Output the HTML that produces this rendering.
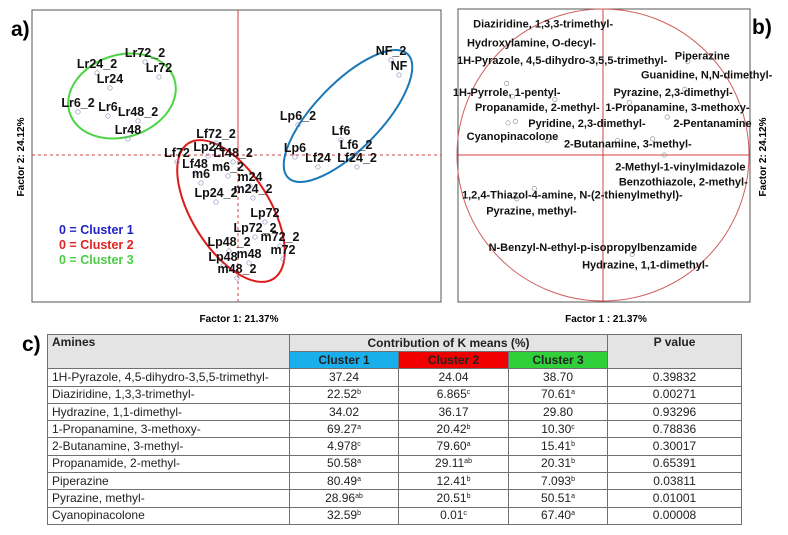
<!DOCTYPE html>
<html><head><meta charset="utf-8">
<style>
body{margin:0;width:788px;height:535px;background:#fff;position:relative;overflow:hidden;font-family:"Liberation Sans",Arial,sans-serif}
svg{position:absolute;left:0;top:0}
table{position:absolute;left:47px;top:334px;border-collapse:collapse;font-size:12px;color:#222}
td{border:1px solid #707070;height:16.3px;padding:0 4px;line-height:15px;white-space:nowrap}
td.n{text-align:center}
sup{font-size:7px;vertical-align:4px;line-height:0}
.hd{background:#e4e4e4;font-weight:bold}
</style></head><body>
<svg width="788" height="360">
<g font-family="Liberation Sans, Arial, sans-serif">
<text x="11" y="36" font-size="21" font-weight="bold">a)</text>
<text x="752" y="34" font-size="21" font-weight="bold">b)</text>
<rect x="32" y="10" width="409" height="292" fill="none" stroke="#555" stroke-width="1"/>
<rect x="458" y="9" width="292" height="293" fill="none" stroke="#555" stroke-width="1"/>
<g id="pa"></g><g id="pb"></g>
<text x="239" y="322" font-size="10" font-weight="bold" text-anchor="middle">Factor 1: 21.37%</text>
<text x="606" y="322" font-size="10" font-weight="bold" text-anchor="middle">Factor 1 : 21.37%</text>
<text transform="translate(24,157) rotate(-90)" font-size="10" font-weight="bold" text-anchor="middle">Factor 2: 24.12%</text>
<text transform="translate(766,157) rotate(-90)" font-size="10" font-weight="bold" text-anchor="middle">Factor 2: 24.12%</text>
<text x="59" y="234" font-size="12.5" font-weight="bold" fill="#2323c8">0 = Cluster 1</text>
<text x="59" y="249" font-size="12.5" font-weight="bold" fill="#e02222">0 = Cluster 2</text>
<text x="59" y="264" font-size="12.5" font-weight="bold" fill="#4ccc44">0 = Cluster 3</text>
<text x="22" y="351" font-size="21" font-weight="bold">c)</text>
</g>
</svg>
<table>
<tr class="hd"><td rowspan="2" style="width:233px;vertical-align:top;height:32px">Amines</td><td colspan="3" class="n" style="height:16px">Contribution of K means (%)</td><td rowspan="2" class="n" style="width:125px;vertical-align:top">P value</td></tr>
<tr class="hd"><td class="n" style="width:100px;background:#1aaeea;height:15px">Cluster 1</td><td class="n" style="width:101px;background:#f00000">Cluster 2</td><td class="n" style="width:90px;background:#2fd03a">Cluster 3</td></tr>
<tr><td>1H-Pyrazole, 4,5-dihydro-3,5,5-trimethyl-</td><td class="n">37.24</td><td class="n">24.04</td><td class="n">38.70</td><td class="n">0.39832</td></tr>
<tr><td>Diaziridine, 1,3,3-trimethyl-</td><td class="n">22.52<sup>b</sup></td><td class="n">6.865<sup>c</sup></td><td class="n">70.61<sup>a</sup></td><td class="n">0.00271</td></tr>
<tr><td>Hydrazine, 1,1-dimethyl-</td><td class="n">34.02</td><td class="n">36.17</td><td class="n">29.80</td><td class="n">0.93296</td></tr>
<tr><td>1-Propanamine, 3-methoxy-</td><td class="n">69.27<sup>a</sup></td><td class="n">20.42<sup>b</sup></td><td class="n">10.30<sup>c</sup></td><td class="n">0.78836</td></tr>
<tr><td>2-Butanamine, 3-methyl-</td><td class="n">4.978<sup>c</sup></td><td class="n">79.60<sup>a</sup></td><td class="n">15.41<sup>b</sup></td><td class="n">0.30017</td></tr>
<tr><td>Propanamide, 2-methyl-</td><td class="n">50.58<sup>a</sup></td><td class="n">29.11<sup>ab</sup></td><td class="n">20.31<sup>b</sup></td><td class="n">0.65391</td></tr>
<tr><td>Piperazine</td><td class="n">80.49<sup>a</sup></td><td class="n">12.41<sup>b</sup></td><td class="n">7.093<sup>b</sup></td><td class="n">0.03811</td></tr>
<tr><td>Pyrazine, methyl-</td><td class="n">28.96<sup>ab</sup></td><td class="n">20.51<sup>b</sup></td><td class="n">50.51<sup>a</sup></td><td class="n">0.01001</td></tr>
<tr><td>Cyanopinacolone</td><td class="n">32.59<sup>b</sup></td><td class="n">0.01<sup>c</sup></td><td class="n">67.40<sup>a</sup></td><td class="n">0.00008</td></tr>
</table>
<script>
const sampleNames=["Lr72_2","Lr72","Lr24_2","Lr24","Lr6_2","Lr6","Lr48_2","Lr48","NF_2","NF","Lp6_2","Lf6","Lf6_2","Lp6","Lf24","Lf24_2","Lf72_2","Lp24","Lf48_2","Lf72","Lf48","m6_2","m6","m24","m24_2","Lp24_2","Lp72","Lp72_2","m72_2","Lp48_2","m72","Lp48","m48","m48_2"];
const sampleF1=[-1.86,-1.58,-2.82,-2.56,-3.20,-2.60,-2.00,-2.20,3.06,3.22,1.20,2.06,2.36,1.14,1.60,2.38,-0.44,-0.60,-0.10,-1.22,-0.86,-0.20,-0.74,0.24,0.30,-0.44,0.54,0.34,0.84,-0.18,0.90,-0.30,0.22,-0.02];
const sampleF2=[1.86,1.56,1.64,1.34,0.86,0.78,0.68,0.32,1.90,1.60,0.60,0.30,0.02,-0.04,-0.24,-0.24,0.24,-0.02,-0.14,-0.14,-0.36,-0.42,-0.56,-0.62,-0.86,-0.94,-1.34,-1.64,-1.82,-1.92,-2.08,-2.22,-2.16,-2.46];
const amineNames=["Diaziridine, 1,3,3-trimethyl-","Hydroxylamine, O-decyl-","1H-Pyrazole, 4,5-dihydro-3,5,5-trimethyl-","Piperazine","Guanidine, N,N-dimethyl-","1H-Pyrrole, 1-pentyl-","Pyrazine, 2,3-dimethyl-","Propanamide, 2-methyl-","1-Propanamine, 3-methoxy-","Pyridine, 2,3-dimethyl-","2-Pentanamine","Cyanopinacolone","2-Butanamine, 3-methyl-","2-Methyl-1-vinylmidazole","Benzothiazole, 2-methyl-","1,2,4-Thiazol-4-amine, N-(2-thienylmethyl)-","Pyrazine, methyl-","N-Benzyl-N-ethyl-p-isopropylbenzamide","Hydrazine, 1,1-dimethyl-"];
const amineL1=[-0.41,-0.49,-0.28,0.68,0.71,-0.66,0.48,-0.45,0.51,-0.11,0.75,-0.62,0.17,0.53,0.55,-0.21,-0.49,-0.07,0.29];
const amineL2=[0.90,0.77,0.65,0.68,0.55,0.43,0.43,0.33,0.33,0.22,0.22,0.13,0.08,-0.08,-0.18,-0.27,-0.38,-0.63,-0.75];
const loadDotL1=[-0.66,-0.62,-0.33,-0.65,-0.60,-0.38,0.58,0.56,0.18,0.44,0.10,0.34,0.42,-0.47,-0.59,0.20];
const loadDotL2=[0.49,0.40,0.38,0.22,0.23,0.10,0.64,0.45,0.36,0.26,0.10,0.11,0.0,-0.23,-0.30,-0.68];

const NS="http://www.w3.org/2000/svg";
function mk(tag,attrs,parent){const e=document.createElementNS(NS,tag);for(const k in attrs)e.setAttribute(k,attrs[k]);parent.appendChild(e);return e;}
const ax=v=>238+v*50, ay=v=>155-v*50;
const bx=v=>603+v*146, by=v=>155-v*146;
const pa=document.getElementById('pa'), pb=document.getElementById('pb');
let e;
e=mk('line',{x1:238,y1:10,x2:238,y2:155,stroke:'#d04040','stroke-width':1},pa);

e=mk('line',{x1:238,y1:155,x2:238,y2:302,stroke:'#d04040','stroke-width':1,'stroke-dasharray':'3,3'},pa);

e=mk('line',{x1:32,y1:155,x2:441,y2:155,stroke:'#d04040','stroke-width':1,'stroke-dasharray':'3,3'},pa);

e=mk('ellipse',{cx:122,cy:96,rx:55,ry:41,transform:'rotate(-18 122 96)',fill:'none',stroke:'#4cd444','stroke-width':2},pa);

e=mk('ellipse',{cx:348,cy:116,rx:86,ry:33,transform:'rotate(-46 348 116)',fill:'none',stroke:'#1a78b8','stroke-width':2},pa);

e=mk('ellipse',{cx:231,cy:211,rx:80,ry:39,transform:'rotate(58 231 211)',fill:'none',stroke:'#dd1a1a','stroke-width':2},pa);

sampleNames.forEach((n,i)=>{
  const x=ax(sampleF1[i]), y=ay(sampleF2[i]);
  const c=mk('circle',{cx:x,cy:y,r:2.2,fill:'none',stroke:'#9090c0','stroke-width':0.7},pa);
  
  
  const t=mk('text',{x:x,y:y-5,'text-anchor':'middle','font-size':12.5,'font-weight':'bold',fill:'#111'},pa);
  t.textContent=n;
  
  
});
e=mk('circle',{cx:603,cy:155,r:146,fill:'none',stroke:'#d06060','stroke-width':1},pb);

e=mk('line',{x1:603,y1:9,x2:603,y2:302,stroke:'#d04040','stroke-width':1},pb);

e=mk('line',{x1:458,y1:155,x2:750,y2:155,stroke:'#d04040','stroke-width':1},pb);

loadDotL1.forEach((v,i)=>{
  const c=mk('circle',{cx:bx(v),cy:by(loadDotL2[i]),r:2.2,fill:'none',stroke:'#999','stroke-width':0.7},pb);
  
  
});
amineNames.forEach((n,i)=>{
  const t=mk('text',{x:bx(amineL1[i]),y:by(amineL2[i])+4,'text-anchor':'middle','font-size':11,'font-weight':'bold',fill:'#111'},pb);
  t.textContent=n;
  
  
});
</script>
</body></html>
